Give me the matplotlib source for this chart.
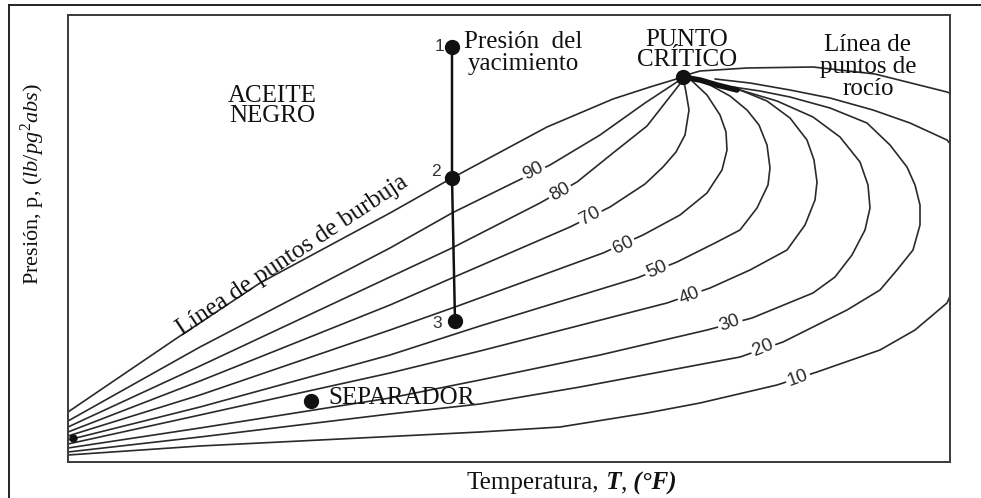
import matplotlib
matplotlib.use("Agg")
import matplotlib.pyplot as plt
from matplotlib.lines import Line2D
from matplotlib.offsetbox import TextArea, HPacker, AnnotationBbox

plt.rcParams['mathtext.fontset'] = 'custom'
plt.rcParams['mathtext.rm'] = 'Liberation Serif'
plt.rcParams['mathtext.it'] = 'Liberation Serif:italic'
plt.rcParams['mathtext.bf'] = 'Liberation Serif:bold'

# ---- data (arbitrary temperature / pressure units) ----
bubble_T = [0, 109, 192, 322, 384, 479, 545, 582, 615]
bubble_P = [50, 124, 179, 249, 284, 335, 363, 375, 385]

q90_T = [0, 132, 322, 384, 445, 482, 532, 577, 615]
q90_P = [41, 115, 214, 249, 279, 297, 327, 359, 384]

q80_T = [0, 132, 322, 384, 472, 509, 545, 579, 615]
q80_P = [35, 96, 185, 214, 259, 280, 309, 336, 382]

q70_T = [0, 132, 322, 384, 502, 542, 577, 595, 608, 617, 621, 618, 615]
q70_P = [30, 81, 157, 184, 235, 255, 278, 295, 310, 327, 352, 370, 385]

q60_T = [0, 132, 322, 387, 535, 575, 612, 639, 654, 659, 658, 652, 639, 622]
q60_P = [26, 67, 132, 155, 209, 227, 247, 269, 292, 312, 330, 347, 367, 383]

q50_T = [0, 132, 322, 412, 569, 609, 647, 672, 689, 700, 702, 699, 691, 679, 662, 642, 629]
q50_P = [22, 55, 107, 136, 184, 200, 219, 232, 254, 277, 294, 317, 337, 352, 366, 377, 382]

q40_T = [0, 132, 322, 412, 599, 642, 682, 719, 737, 747, 749, 746, 739, 722, 699, 672, 642]
q40_P = [18, 47, 89, 111, 159, 174, 192, 212, 237, 262, 280, 302, 322, 344, 361, 372, 380]

q30_T = [0, 132, 322, 412, 532, 639, 684, 745, 767, 784, 797, 802, 800, 792, 772, 745, 709, 672, 654]
q30_P = [14, 34, 64, 82, 107, 132, 144, 169, 185, 207, 232, 254, 277, 300, 325, 345, 361, 372, 377]

q20_T = [0, 132, 322, 412, 512, 672, 715, 779, 812, 829, 845, 852, 852, 847, 839, 822, 799, 762, 722, 692, 665]
q20_P = [10, 25, 48, 58, 75, 105, 120, 152, 172, 192, 212, 237, 257, 277, 295, 317, 339, 354, 365, 371, 375]

q10_T = [0, 132, 312, 412, 492, 579, 632, 709, 749, 812, 847, 879, 894, 904, 902, 892, 879, 842, 805, 762, 722, 682, 647]
q10_P = [7, 16, 25, 30, 35, 49, 59, 77, 90, 112, 132, 159, 192, 237, 277, 307, 322, 339, 352, 364, 372, 379, 383]

dew_T = [615, 632, 679, 745, 807, 879, 912]
dew_P = [386, 391, 394, 395, 388, 370, 357]

blob_T = [615, 632, 649, 669]
blob_P = [385, 382, 377, 372]

quality_labels = ['90', '80', '70', '60', '50', '40', '30', '20', '10']
label_T = [465, 492, 522, 555, 589, 622, 662, 695, 730]
label_P = [291, 270, 246, 217, 192, 166, 139, 114, 84]
label_rot = [28, 29, 28, 26, 24, 22, 20, 22, 20]

path_T = [384, 384, 387]
path_P = [415, 284, 141]
path_names = ['1', '2', '3']
path_name_T = [371, 368, 369]
path_name_P = [416, 291, 139]

critical_T, critical_P = 615, 385
sep_T, sep_P = 243, 61
origin_T, origin_P = 5, 24

# ---- figure ----
fig = plt.figure(figsize=(9.81, 4.98), dpi=100)
ax = fig.add_axes([68 / 981, 36 / 498, 882 / 981, 447 / 498])
ax.set_xlim(0, 882)
ax.set_ylim(0, 447)
ax.set_xticks([])
ax.set_yticks([])
for s in ax.spines.values():
    s.set_linewidth(1.4)
    s.set_color('#3a3a3a')

# outer frame
fig.add_artist(Line2D([9 / 981, 9 / 981], [0, 493 / 498], color='#222', lw=1.4))
fig.add_artist(Line2D([9 / 981, 1], [493 / 498, 493 / 498], color='#222', lw=1.4))

lc = '#2a2a2a'
lw = 1.2
curves = [(bubble_T, bubble_P), (q90_T, q90_P), (q80_T, q80_P), (q70_T, q70_P),
          (q60_T, q60_P), (q50_T, q50_P), (q40_T, q40_P), (q30_T, q30_P),
          (q20_T, q20_P), (q10_T, q10_P), (dew_T, dew_P)]
for T, P in curves:
    ax.plot(T, P, color=lc, lw=lw, solid_capstyle='round', solid_joinstyle='round')

ax.plot(blob_T, blob_P, color='#111', lw=4, solid_capstyle='round')

for txt, t, p, r in zip(quality_labels, label_T, label_P, label_rot):
    ax.text(t, p, txt, family='Liberation Sans', fontsize=13.5, rotation=r,
            rotation_mode='anchor', ha='center', va='center', color='#2a2a2a',
            bbox=dict(fc='white', ec='none', pad=1.5), zorder=4)

# reservoir path
ax.plot(path_T, path_P, color='#111', lw=1.8, zorder=5)
ax.plot(path_T, path_P, 'o', color='#111', ms=10, zorder=6)
for txt, t, p in zip(path_names, path_name_T, path_name_P):
    ax.text(t, p, txt, family='Liberation Sans', fontsize=12.5, ha='center',
            va='center', color='#333', zorder=6)

ax.plot([critical_T], [critical_P], 'o', color='#111', ms=10, zorder=6)
ax.plot([sep_T], [sep_P], 'o', color='#111', ms=10, zorder=6)
ax.plot([origin_T], [origin_P], 'o', color='#111', ms=5, zorder=6)

serif = 'Liberation Serif'
tc = '#111'
ax.text(204, 356, 'ACEITE\nNEGRO', family=serif, fontsize=18, ha='center',
        va='center', linespacing=0.85, color=tc)
ax.text(455, 409, 'Presión  del\nyacimiento', family=serif, fontsize=18,
        ha='center', va='center', linespacing=1.05, color=tc)
ax.text(619, 412, 'PUNTO\nCRÍTICO', family=serif, fontsize=18, ha='center',
        va='center', linespacing=0.9, color=tc)
ax.text(800, 395, 'Línea de\npuntos de\nrocío', family=serif, fontsize=18,
        ha='center', va='center', linespacing=1.0, color=tc, zorder=7)
ax.text(260, 64, 'SEPARADOR', family=serif, fontsize=18, ha='left',
        va='center', color=tc)
ax.text(224, 206, 'Línea de puntos de burbuja', family=serif, fontsize=18,
        ha='center', va='center', rotation=33.6, rotation_mode='anchor',
        color=tc)

# axis labels
ax.text(-35, 278, r'Presión, p, $\mathit{(lb/pg^2abs)}$', family=serif,
        fontsize=16, rotation=90, ha='center', va='center', color=tc,
        clip_on=False)

reg = dict(family=serif, size=18, color=tc)
bi = dict(family=serif, size=18, color=tc, style='italic', weight='bold')
box = HPacker(children=[TextArea('Temperatura,', textprops=reg),
                        TextArea(' T', textprops=bi),
                        TextArea(',', textprops=reg),
                        TextArea(' (°F)', textprops=bi)],
              align='baseline', pad=0, sep=0)
ab = AnnotationBbox(box, (504, -21), xycoords='data', frameon=False,
                    box_alignment=(0.5, 0.5), annotation_clip=False)
ax.add_artist(ab)

fig.savefig('out.png', dpi=100)
